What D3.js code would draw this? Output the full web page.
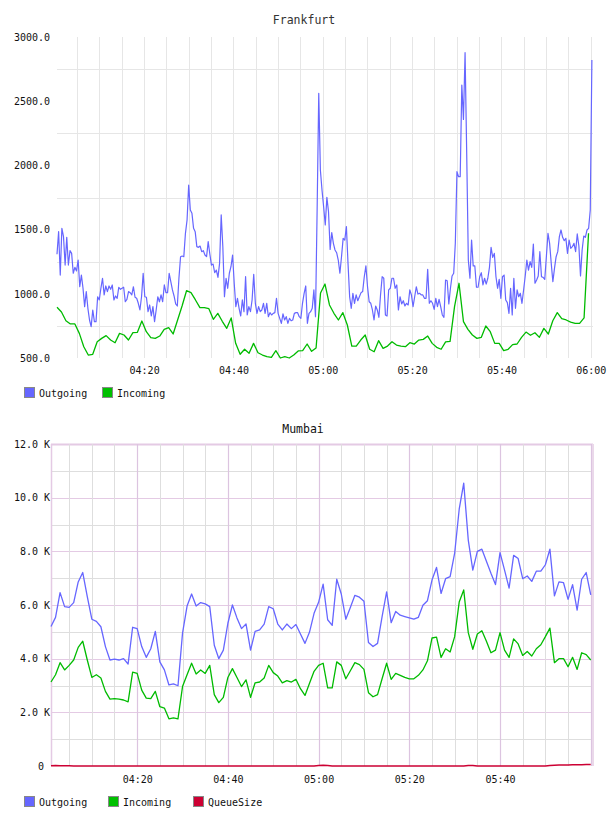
<!DOCTYPE html>
<html>
<head>
<meta charset="utf-8">
<script src="https://cdn.jsdelivr.net/npm/d3@7"></script>
<style>
  body { margin: 0; background: #fff; }
  svg text { font-family: "DejaVu Sans Mono", monospace; fill: #111; }
</style>
</head>
<body>
<svg id="chart" width="608" height="816"></svg>
<script>
// ---- Frankfurt ----
const frankfurtTitle = "Frankfurt";
const frankfurtOutStart = "04:00:30";
const frankfurtOutEnd = "06:00:15";
const frankfurtOutgoing = [
    1308, 1484, 1146, 1510, 1445, 1224, 1440, 1224, 1336, 1315, 1160, 1206, 1178, 1263, 1055, 1146,
    1043, 900, 1017, 887, 796, 744, 874, 783, 783, 977, 952, 1043, 1121, 991, 1061, 1017,
    1061, 1035, 1069, 952, 983, 965, 1051, 1035, 1043, 1051, 938, 957, 1017, 1009, 991, 1055,
    973, 965, 926, 874, 977, 1160, 977, 973, 861, 913, 827, 900, 783, 874, 977, 938,
    991, 938, 1069, 1009, 1009, 1160, 1094, 1030, 983, 921, 905, 1121, 1289, 1294, 1289, 1471,
    1575, 1847, 1653, 1627, 1510, 1484, 1367, 1362, 1372, 1328, 1336, 1302, 1289, 1406, 1310, 1224,
    1232, 1164, 1185, 1128, 1237, 1614, 1367, 977, 1121, 1043, 1160, 1211, 1302, 1082, 900, 965,
    887, 827, 952, 861, 1133, 835, 900, 861, 952, 1152, 926, 848, 900, 861, 874, 926,
    848, 926, 822, 853, 835, 848, 853, 965, 848, 809, 770, 843, 796, 822, 770, 809,
    790, 796, 848, 853, 853, 822, 809, 926, 1004, 1061, 770, 848, 861, 887, 1030, 822,
    1653, 2561, 1964, 1808, 1678, 1536, 1751, 1639, 1346, 1476, 1393, 1341, 1320, 1263, 1160, 1289,
    1432, 1419, 1523, 1237, 977, 887, 1004, 926, 991, 946, 977, 1009, 1017, 1133, 1217, 1055,
    938, 926, 874, 796, 905, 874, 817, 991, 1133, 1121, 835, 827, 1030, 1043, 1121, 1121,
    1043, 1069, 874, 977, 921, 946, 905, 926, 913, 1030, 991, 900, 977, 1055, 998, 1004,
    991, 991, 965, 965, 1191, 926, 946, 926, 879, 965, 900, 957, 900, 835, 817, 1107,
    1101, 921, 1043, 1139, 1160, 1393, 1951, 1912, 1912, 2626, 2358, 2878, 2094, 1263, 1121, 1419,
    1217, 1217, 1051, 1051, 1133, 1164, 1069, 1121, 1076, 1121, 1206, 1362, 1284, 1315, 1133, 1043,
    1112, 965, 1133, 1146, 952, 931, 848, 1043, 835, 1121, 887, 1030, 977, 1004, 926, 1030,
    1139, 1263, 1185, 1250, 1206, 1388, 1082, 1107, 1139, 1328, 1133, 1128, 1112, 1289, 1471, 1393,
    1237, 1094, 1198, 1289, 1328, 1445, 1497, 1440, 1414, 1432, 1315, 1419, 1354, 1367, 1393, 1328,
    1466, 1372, 1139, 1341, 1450, 1440, 1497, 1510, 1653, 2821
];
// one sample per minute
const frankfurtInStart = "04:00:30";
const frankfurtIncoming = [
    895, 858, 790, 765, 765, 692, 588, 523, 529, 627, 653, 674, 640, 619, 692, 679,
    640, 697, 700, 788, 705, 658, 653, 671, 723, 736, 687, 796, 905, 1024, 1009, 952,
    892, 892, 884, 801, 848, 786, 731, 812, 614, 529, 568, 537, 614, 541, 523, 510,
    505, 557, 500, 510, 500, 523, 555, 557, 609, 552, 578, 1006, 1076, 913, 848, 796,
    853, 757, 593, 593, 640, 679, 568, 549, 635, 575, 593, 627, 601, 593, 588, 619,
    609, 640, 645, 671, 614, 583, 568, 625, 630, 900, 1082, 783, 723, 679, 653, 661,
    749, 705, 614, 614, 557, 568, 604, 609, 661, 702, 677, 697, 661, 731, 687, 790,
    853, 806, 796, 780, 770, 770, 812, 1471
];
const frankfurtDomain = ["04:00:30", "06:00:30"];
const frankfurtTicksY = [500, 1000, 1500, 2000, 2500, 3000];
const frankfurtGridY = [750, 1250, 1750, 2250, 2750];

// ---- Mumbai ----
const mumbaiTitle = "Mumbai";
const mumbaiStart = "04:01:00";   // one sample per minute
const mumbaiOutgoing = [
    5200, 5540, 6460, 5940, 5910, 6090, 6860, 7210, 6310, 5470, 5390, 5190, 4450, 3950, 3980, 3950,
    4000, 3800, 5170, 5120, 4450, 4050, 4370, 5020, 3880, 3580, 3020, 3060, 2990, 4950, 5960, 6410,
    5960, 6090, 6040, 5940, 4500, 4000, 4320, 5320, 6000, 5520, 5120, 5290, 4320, 5020, 5070, 5290,
    5940, 5860, 5290, 5070, 5290, 5120, 5270, 4920, 4570, 4990, 5690, 6100, 6780, 5450, 5240, 6960,
    6410, 5470, 5910, 6360, 6290, 6140, 4600, 4450, 4570, 5570, 6490, 5340, 5760, 5620, 5570, 5520,
    5470, 5540, 5990, 6160, 6930, 7400, 6430, 6980, 7060, 7930, 9570, 10540, 8420, 7300, 8000, 8080,
    7630, 7180, 6760, 7950, 7300, 6630, 7850, 7730, 6980, 7080, 6880, 7260, 7260, 7500, 8080, 6340,
    6860, 6830, 6210, 6760, 5810, 6960, 7210, 6380
];
const mumbaiIncoming = [
    3130, 3400, 3850, 3580, 3750, 3950, 4420, 4650, 3950, 3300, 3400, 3280, 2780, 2490, 2510, 2490,
    2460, 2390, 3500, 3450, 2830, 2530, 2510, 2780, 2210, 2160, 1760, 1790, 1760, 2960, 3400, 3830,
    3430, 3580, 3450, 3750, 2660, 2360, 2560, 3300, 3630, 3300, 2960, 3210, 2560, 3100, 3130, 3280,
    3750, 3480, 3350, 3100, 3180, 3130, 3230, 2880, 2630, 3080, 3530, 3750, 3830, 2910, 2910, 3880,
    3750, 3250, 3550, 3850, 3780, 3600, 2730, 2580, 2660, 3250, 3830, 3230, 3450, 3380, 3300, 3250,
    3250, 3380, 3580, 3920, 4770, 4800, 4050, 4370, 4250, 4820, 6110, 6560, 4970, 4350, 4920, 5040,
    4650, 4220, 4320, 4970, 4320, 4050, 4740, 4550, 4120, 4270, 4100, 4370, 4520, 4820, 5140, 3850,
    4000, 4000, 3700, 4050, 3600, 4220, 4150, 3950
];
const mumbaiQueueSize = [
    10, 15, 10, 10, 5, 0, 0, 0, 0, 0, 0, 0, 0, 0, 0, 0,
    0, 0, 0, 0, 0, 0, 0, 0, 0, 0, 0, 0, 0, 0, 0, 0,
    0, 0, 0, 0, 0, 0, 0, 0, 0, 0, 0, 0, 0, 0, 0, 0,
    0, 0, 0, 0, 0, 0, 0, 0, 0, 0, 0, 20, 30, 20, 0, 0,
    0, 0, 0, 0, 0, 0, 0, 0, 0, 0, 0, 0, 0, 0, 0, 0,
    0, 0, 0, 0, 0, 0, 0, 0, 0, 0, 0, 0, 15, 15, 0, 0,
    0, 0, 0, 0, 0, 0, 0, 0, 0, 0, 0, 0, 0, 0, 20, 30,
    35, 40, 40, 45, 50, 50, 55, 55
];
const mumbaiDomain = ["04:01:00", "06:00:30"];
const mumbaiTicksY = [0, 2000, 4000, 6000, 8000, 10000, 12000];

const timeLabels = ["04:20", "04:40", "05:00", "05:20", "05:40", "06:00"];

const colors = { out: "#6666ff", inc: "#00bb00", queue: "#cc0033" };

const parseTime = d3.timeParse("%H:%M:%S");
const parseLabel = d3.timeParse("%H:%M");
const svg = d3.select("#chart");

// spreads n samples evenly between two clock times
function evenTimes(n, start, end) {
    const t0 = parseTime(start).getTime();
    const t1 = parseTime(end).getTime();
    return d3.range(n).map(i => new Date(t0 + i * (t1 - t0) / (n - 1)));
}

function minuteTimes(n, start) {
    const t0 = parseTime(start);
    return d3.range(n).map(i => d3.timeMinute.offset(t0, i));
}

function fiveMinuteGrid(domain) {
    return d3.timeMinute.every(5).range(domain[0], d3.timeSecond.offset(domain[1], 1));
}

// label times are parsed without seconds; keep the same base date as the data
function fixDate(d) {
    return parseTime(d3.timeFormat("%H:%M:%S")(d));
}

function drawLine(g, x, y, times, values, color, width) {
    const line = d3.line()
        .x((d, i) => x(times[i]))
        .y(d => y(d));
    g.append("path")
        .datum(values)
        .attr("fill", "none")
        .attr("stroke", color)
        .attr("stroke-width", width)
        .attr("stroke-linejoin", "round")
        .attr("d", line);
}

function drawLegend(yPos, items) {
    const g = svg.append("g");
    items.forEach(item => {
        g.append("rect")
            .attr("x", item.x + 0.5).attr("y", yPos - 4.5)
            .attr("width", 10).attr("height", 10)
            .attr("fill", item.color)
            .attr("stroke", "#888");
        g.append("text")
            .attr("x", item.x + 15).attr("y", yPos + 1)
            .attr("dominant-baseline", "central")
            .attr("font-size", 10)
            .text(item.label);
    });
}

function drawFrankfurt() {
    const domain = frankfurtDomain.map(parseTime);
    const x = d3.scaleTime().domain(domain).range([57, 593]);
    const y = d3.scaleLinear().domain([500, 3000]).range([358, 37]);
    const g = svg.append("g");

    g.append("text")
        .attr("x", 304).attr("y", 20)
        .attr("text-anchor", "middle")
        .attr("dominant-baseline", "central")
        .attr("font-size", 11.5)
        .style("fill", "#333")
        .text(frankfurtTitle);

    // grid
    g.append("g").selectAll("line")
        .data(fiveMinuteGrid(domain))
        .join("line")
        .attr("x1", d => Math.round(x(d)) + 0.5).attr("x2", d => Math.round(x(d)) + 0.5)
        .attr("y1", y(3000)).attr("y2", y(500))
        .attr("stroke", "#e6e6e6");
    g.append("g").selectAll("line")
        .data(frankfurtGridY)
        .join("line")
        .attr("x1", 57).attr("x2", 593)
        .attr("y1", d => Math.round(y(d)) + 0.5).attr("y2", d => Math.round(y(d)) + 0.5)
        .attr("stroke", "#e6e6e6");

    const plot = g.append("g");
    drawLine(plot, x, y, evenTimes(frankfurtOutgoing.length, frankfurtOutStart, frankfurtOutEnd),
        frankfurtOutgoing, colors.out, 1.2);
    drawLine(plot, x, y, minuteTimes(frankfurtIncoming.length, frankfurtInStart),
        frankfurtIncoming, colors.inc, 1.3);

    // axes (labels only)
    const yAxis = g.append("g")
        .attr("transform", "translate(50,0)")
        .call(d3.axisLeft(y).tickValues(frankfurtTicksY).tickSize(0).tickPadding(0)
            .tickFormat(d => d.toFixed(1)));
    const xAxis = g.append("g")
        .attr("transform", "translate(0,367)")
        .call(d3.axisBottom(x).tickValues(timeLabels.map(parseLabel).map(fixDate))
            .tickSize(0).tickPadding(0).tickFormat(d3.timeFormat("%H:%M")));
    [yAxis, xAxis].forEach(a => {
        a.select(".domain").remove();
        a.selectAll("text").attr("font-size", 10).attr("font-family", null).style("fill", "#111");
    });

    drawLegend(392, [
        { x: 24, label: "Outgoing", color: colors.out },
        { x: 102, label: "Incoming", color: "#00c000" }
    ]);
}

function drawMumbai() {
    const domain = mumbaiDomain.map(parseTime);
    const x = d3.scaleTime().domain(domain).range([51, 593]);
    const y = d3.scaleLinear().domain([0, 12000]).range([766, 444]);
    const g = svg.append("g");
    const major = "#e4cae4";
    const minor = "#dedede";

    g.append("text")
        .attr("x", 303).attr("y", 429)
        .attr("text-anchor", "middle")
        .attr("dominant-baseline", "central")
        .attr("font-size", 11.5)
        .text(mumbaiTitle);

    // grid: gray every 1K / 5 min, purple every 2K / 20 min
    g.append("g").selectAll("line")
        .data(d3.range(1000, 12001, 1000))
        .join("line")
        .attr("x1", 51).attr("x2", 593)
        .attr("y1", d => Math.round(y(d)) + 0.5).attr("y2", d => Math.round(y(d)) + 0.5)
        .attr("stroke", d => d % 2000 === 0 ? major : minor)
        .attr("stroke-width", d => d === 12000 ? 2 : 1);
    g.append("g").selectAll("line")
        .data(fiveMinuteGrid(domain))
        .join("line")
        .attr("x1", d => Math.round(x(d)) + 0.5).attr("x2", d => Math.round(x(d)) + 0.5)
        .attr("y1", y(12000)).attr("y2", y(0))
        .attr("stroke", d => d.getMinutes() % 20 === 0 ? "#dcc4e0" : minor)
        .attr("stroke-width", d => d.getMinutes() % 20 === 0 ? 1.2 : 1);
    g.append("line")
        .attr("x1", 51.5).attr("x2", 51.5).attr("y1", y(12000)).attr("y2", y(0))
        .attr("stroke", major).attr("stroke-width", 1.5);
    g.append("line")
        .attr("x1", 593).attr("x2", 593).attr("y1", y(12000)).attr("y2", y(0))
        .attr("stroke", "#ead8ea").attr("stroke-width", 2);

    const times = minuteTimes(mumbaiOutgoing.length, mumbaiStart);
    const plot = g.append("g");
    drawLine(plot, x, y, times, mumbaiOutgoing, colors.out, 1.3);
    drawLine(plot, x, y, times, mumbaiIncoming, colors.inc, 1.3);
    drawLine(plot, x, y, times, mumbaiQueueSize, colors.queue, 1.5);

    const yAxis = g.append("g")
        .attr("transform", "translate(50,0)")
        .call(d3.axisLeft(y).tickValues(mumbaiTicksY).tickSize(0).tickPadding(0)
            .tickFormat(d => d === 0 ? "0 " : (d / 1000).toFixed(1) + " K"));
    const xAxis = g.append("g")
        .attr("transform", "translate(0,776)")
        .call(d3.axisBottom(x).tickValues(timeLabels.slice(0, 5).map(parseLabel).map(fixDate))
            .tickSize(0).tickPadding(0).tickFormat(d3.timeFormat("%H:%M")));
    [yAxis, xAxis].forEach(a => {
        a.select(".domain").remove();
        a.selectAll("text").attr("font-size", 10).attr("font-family", null)
            .style("fill", "#111").style("white-space", "pre");
    });

    drawLegend(801, [
        { x: 24, label: "Outgoing", color: colors.out },
        { x: 108, label: "Incoming", color: "#00c000" },
        { x: 193, label: "QueueSize", color: colors.queue }
    ]);
}

drawFrankfurt();
drawMumbai();
</script>
</body>
</html>
